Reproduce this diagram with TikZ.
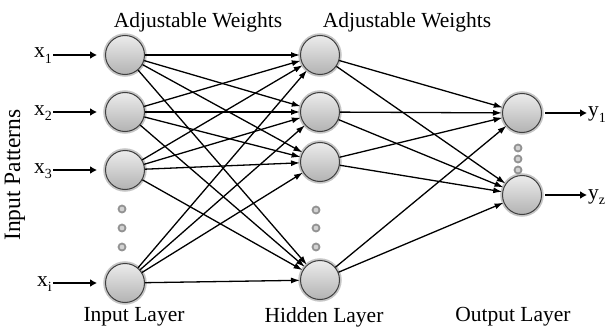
\documentclass[tikz,border=0pt]{standalone}
\usepackage{fontspec}
\setmainfont{Liberation Serif}
\usetikzlibrary{arrows.meta}
\newcommand*{\colin }{125}
\newcommand*{\colhd }{320}
\newcommand*{\colout}{522}
\newcommand*{\nsz   }{39pt}
\newcommand*{\lsub}[1]{\raisebox{-5.5pt}{\fontsize{14}{14}\selectfont #1}}

\begin{document}
\begin{tikzpicture}[x=1pt, y=-1pt, font=\fontsize{21.5}{25}\selectfont,
    neuron/.style={circle, minimum size=\nsz, inner sep=0pt, top color=gray!15, bottom color=gray!60,
        draw=black!75, line width=1pt, preaction={draw=gray!45, line width=4.5pt}},
    pdot/.style={circle, minimum size=7pt, inner sep=0pt, draw=gray!85, line width=1.8pt, fill=gray!35},
    wt/.style={line width=1.3pt, -{Latex[length=9pt,width=6pt]}},
    io/.style={line width=2.8pt, -{Latex[length=7pt,width=8pt]}},
    lbl/.style={inner sep=1pt}]
    \useasboundingbox (0,0) rectangle (608,329);
        % input layer
        \node [neuron] (i1) at (\colin, 55) {};
        \node [neuron] (i2) at (\colin,112) {};
        \node [neuron] (i3) at (\colin,170) {};
        \node [neuron] (i4) at (\colin,283) {};
        \node [pdot] (di1) at (\colin-3,209) {};
        \node [pdot] (di2) at (\colin-3,228) {};
        \node [pdot] (di3) at (\colin-3,247) {};
        % hidden layer
        \node [neuron] (h1) at (\colhd, 55) {};
        \node [neuron] (h2) at (\colhd,112) {};
        \node [neuron] (h3) at (\colhd,162) {};
        \node [neuron] (h4) at (\colhd,280) {};
        \node [pdot] (dh1) at (\colhd-4,210) {};
        \node [pdot] (dh2) at (\colhd-4,228) {};
        \node [pdot] (dh3) at (\colhd-4,247) {};
        % output layer
        \node [neuron] (o1) at (\colout,113) {};
        \node [neuron] (o2) at (\colout,195) {};
        \node [pdot] (do1) at (\colout-4,148) {};
        \node [pdot] (do2) at (\colout-4,159) {};
        \node [pdot] (do3) at (\colout-4,170) {};

        \draw [wt] (i1) edge (h1) edge (h2) edge (h3) edge (h4);
        \draw [wt] (i2) edge (h1) edge (h2) edge (h3) edge (h4);
        \draw [wt] (i3) edge (h1) edge (h2) edge (h3) edge (h4);
        \draw [wt] (i4) edge (h1) edge (h2) edge (h3) edge (h4);
        \draw [wt] (h1) edge (o1) edge (o2);
        \draw [wt] (h2) edge (o1) edge (o2);
        \draw [wt] (h3) edge (o1) edge (o2);
        \draw [wt] (h4) edge (o1) edge (o2);

        \node [lbl, anchor=base east] (x1) at (53, 58) {x\lsub{1}};
        \node [lbl, anchor=base east] (x2) at (53,115) {x\lsub{2}};
        \node [lbl, anchor=base east] (x3) at (53,173) {x\lsub{3}};
        \node [lbl, anchor=base east] (x4) at (53,286) {x\lsub{i}};
        \draw [io, shorten >=8pt] (x1.east |- i1) -- (i1);
        \draw [io, shorten >=8pt] (x2.east |- i2) -- (i2);
        \draw [io, shorten >=8pt] (x3.east |- i3) -- (i3);
        \draw [io, shorten >=8pt] (x4.east |- i4) -- (i4);

        \node [lbl, anchor=base west] (y1) at (587,117) {y\lsub{1}};
        \node [lbl, anchor=base west] (y2) at (587,199) {y\lsub{z}};
        \draw [io, shorten <=3pt] (o1) -- (y1.west |- o1);
        \draw [io, shorten <=3pt] (o2) -- (y2.west |- o2);

        \node [rotate=90, font=\fontsize{23.5}{26}\selectfont] (pat) at (15,175) {Input Patterns};
        \node (aw1) at (198,22) {Adjustable Weights};
        \node (aw2) at (407,22) {Adjustable Weights};
        \node (lin)  at (134,317) {Input Layer};
        \node (lhd)  at (324,317) {Hidden Layer};
        \node (lout) at (513,317) {Output Layer};
    \end{tikzpicture}
\end{document}
